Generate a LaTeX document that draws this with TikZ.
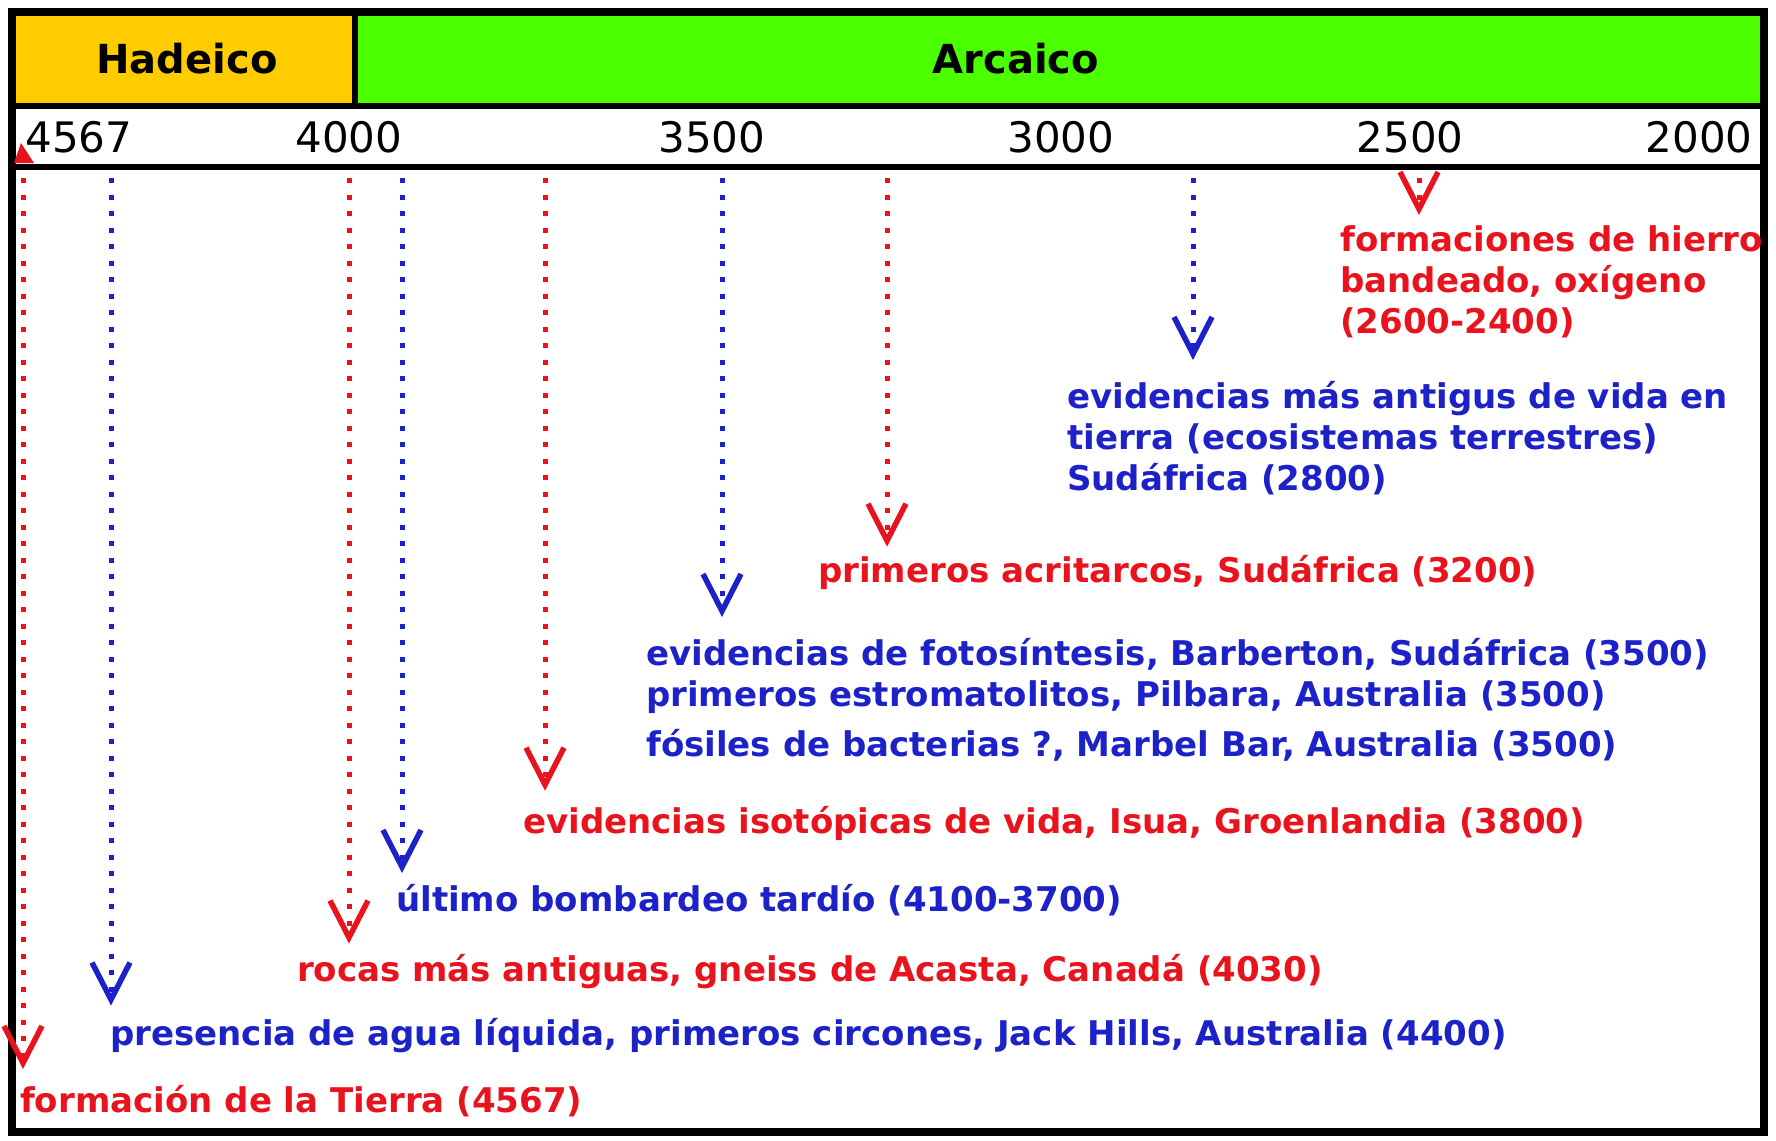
\documentclass[tikz,border=0pt]{standalone}
\usepackage{fontspec}
\setmainfont{DejaVu Sans}
\usepackage{tikz}
\usetikzlibrary{arrows.meta}
\definecolor{hadeico}{HTML}{FFCC00}
\definecolor{arcaico}{HTML}{4CFF00}
\definecolor{evred}{HTML}{E8131C}
\definecolor{evblue}{HTML}{1C22C8}

\begin{document}
\begin{tikzpicture}[x=1pt,y=-1pt,
    era/.style={font=\fontsize{40}{48}\selectfont\bfseries,text=black},
    age/.style={font=\fontsize{42}{50}\selectfont,text=black,inner sep=0pt},
    evt/.style={align=left,inner sep=0pt,font=\fontsize{34}{41}\selectfont\bfseries},
    redev/.style={evt,text=evred},
    blueev/.style={evt,text=evblue},
    ptr/.style={line width=5pt,dash pattern=on 5pt off 11.5pt,
      -{Straight Barb[length=37pt,width=38pt,line width=5.5pt]}}]
    \useasboundingbox (0,0) rectangle (1776,1140);
    \fill[white] (0,0) rectangle (1776,1140);
    % header
    \fill[hadeico] (12,12) rectangle (355,106);
    \fill[arcaico] (355,12) rectangle (1764,106);
    \draw[line width=6pt] (12,106) -- (1764,106);
    \draw[line width=6pt] (12,167) -- (1764,167);
    \draw[line width=6pt] (355,12) -- (355,106);
    \draw[line width=8pt] (12,12) rectangle (1764,1132);
    \node[era] (had) at (187,59) {Hadeico};
    \node[era] (arc) at (1016,59) {Arcaico};
    \node[age] (m4567) at (79,137) {4567};
    \node[age] (m4000) at (349,137) {4000};
    \node[age] (m3500) at (712,137) {3500};
    \node[age] (m3000) at (1061,137) {3000};
    \node[age] (m2500) at (1410,137) {2500};
    \node[age] (m2000) at (1699,137) {2000};
    \fill[evred] (14,163) -- (34,163) -- (21,143) -- cycle;
    % events
    \coordinate (s4567) at (23,178);
    \coordinate (s4400) at (111,178);
    \coordinate (s4030) at (349,178);
    \coordinate (s4100) at (402,178);
    \coordinate (s3800) at (545,178);
    \coordinate (s3500) at (722,178);
    \coordinate (s3200) at (887,178);
    \coordinate (s2800) at (1193,178);
    \coordinate (s2600) at (1419,178);
    \node[redev,anchor=west] (tierra) at (20,1101) {formación de la Tierra (4567)};
    \node[blueev,anchor=west] (agua) at (110,1036)
      {presencia de agua líquida, primeros circones, Jack Hills, Australia (4400)};
    \node[redev,anchor=west] (rocas) at (297,972) {rocas más antiguas, gneiss de Acasta, Canadá (4030)};
    \node[blueev,anchor=west] (bomb) at (396,900) {último bombardeo tardío (4100-3700)};
    \node[redev,anchor=west] (isua) at (523,823) {evidencias isotópicas de vida, Isua, Groenlandia (3800)};
    \node[blueev,anchor=north west] (foto) at (646,638) {
      evidencias de fotosíntesis, Barberton, Sudáfrica (3500)\\
      primeros estromatolitos, Pilbara, Australia (3500)\\[9pt]
      fósiles de bacterias ?, Marbel Bar, Australia (3500)};
    \node[redev,anchor=west] (acri) at (818,572) {primeros acritarcos, Sudáfrica (3200)};
    \node[blueev,anchor=north west] (tierra2) at (1067,381) {
      evidencias más antigus de vida en\\
      tierra (ecosistemas terrestres)\\
      Sudáfrica (2800)};
    \node[redev,anchor=north west] (hierro) at (1340,225) {
      formaciones de hierro\\
      bandeado, oxígeno\\
      (2600-2400)};
    \draw[ptr,evred,shorten >=16pt] (s4567) -- (s4567 |- tierra.north);
    \draw[ptr,evblue,shorten >=13pt] (s4400) -- (s4400 |- agua.north);
    \draw[ptr,evred,shorten >=11pt] (s4030) -- (s4030 |- rocas.north);
    \draw[ptr,evblue,shorten >=11pt] (s4100) -- (s4100 |- bomb.north);
    \draw[ptr,evred,shorten >=15pt] (s3800) -- (s3800 |- isua.north);
    \draw[ptr,evblue,shorten >=21pt] (s3500) -- (s3500 |- foto.north);
    \draw[ptr,evred,shorten >=8pt] (s3200) -- (s3200 |- acri.north);
    \draw[ptr,evblue,shorten >=21pt] (s2800) -- (s2800 |- tierra2.north);
    \draw[ptr,evred,shorten >=10pt] (s2600) -- (s2600 |- hierro.north);
\end{tikzpicture}
\end{document}
